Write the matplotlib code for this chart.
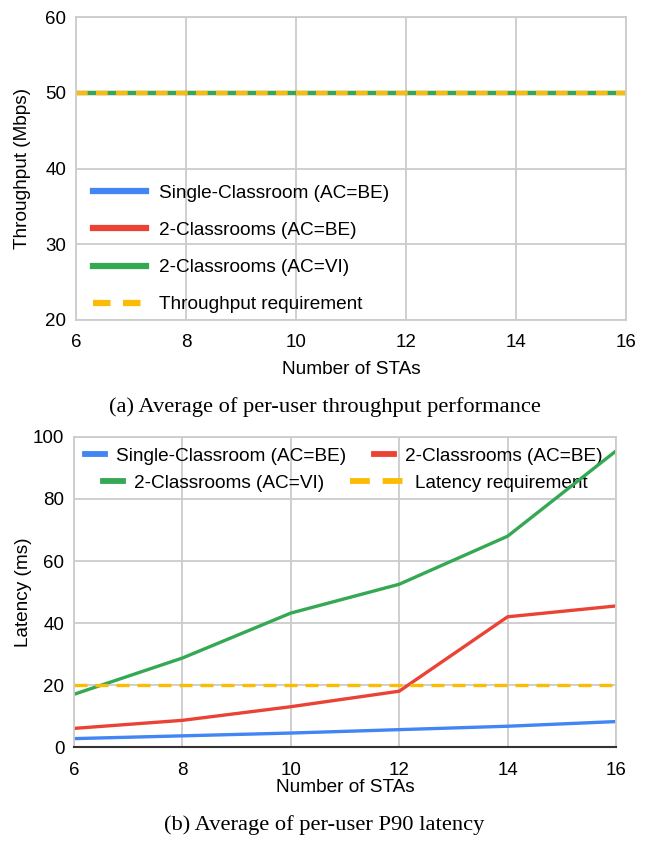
import matplotlib
matplotlib.use("Agg")
import matplotlib.pyplot as plt
from matplotlib.legend import Legend

# number of STAs
stas = [6, 8, 10, 12, 14, 16]

# (a) throughput, Mbps
thr_single_be = [50, 50, 50, 50, 50, 50]
thr_two_be = [50, 50, 50, 50, 50, 50]
thr_two_vi = [50, 50, 50, 50, 50, 50]
thr_req = [50, 50, 50, 50, 50, 50]

# (b) P90 latency, ms
lat_single_be = [2.7, 3.6, 4.5, 5.6, 6.7, 8.2]
lat_two_be = [6.0, 8.6, 13.0, 18.0, 42.0, 45.5]
lat_two_vi = [17.0, 28.7, 43.2, 52.5, 68.0, 95.5]
lat_req = [20, 20, 20, 20, 20, 20]

blue = '#4285F4'
red = '#EA4335'
green = '#34A853'
yellow = '#FBBC04'
grid_c = '#CCCCCC'

plt.rcParams['font.family'] = ['Liberation Sans', 'DejaVu Sans']
FS = 13.7
TICK_FS = 13.5
serif = ['Liberation Serif', 'DejaVu Serif']

fig = plt.figure(figsize=(6.49, 8.41), dpi=100)

def style_axes(ax, bottom_dark):
    ax.grid(True, color=grid_c, linewidth=1.3)
    ax.set_axisbelow(True)
    for s in ['top', 'right', 'left']:
        ax.spines[s].set_color(grid_c)
        ax.spines[s].set_linewidth(1.3)
    if bottom_dark:
        ax.spines['bottom'].set_color('#333333')
        ax.spines['bottom'].set_linewidth(1.5)
    else:
        ax.spines['bottom'].set_color(grid_c)
        ax.spines['bottom'].set_linewidth(1.3)
    ax.tick_params(length=0, labelsize=TICK_FS)
    ax.tick_params(axis='y', pad=7)
    ax.set_xlim(6, 16)
    ax.set_xticks(stas)

# ---- (a) throughput
ax1 = fig.add_axes([76 / 649, 1 - 320 / 841, 550 / 649, 303 / 841])
ax1.plot(stas, thr_single_be, color=blue, lw=3, label='Single-Classroom (AC=BE)')
ax1.plot(stas, thr_two_be, color=red, lw=3, label='2-Classrooms (AC=BE)')
ax1.plot(stas, thr_two_vi, color=green, lw=3, label='2-Classrooms (AC=VI)')
ax1.plot(stas, thr_req, color=yellow, lw=3, ls=(0, (2.8, 2.0)), label='Throughput requirement')
style_axes(ax1, False)
ax1.tick_params(axis='x', pad=10)
ax1.set_ylim(20, 60)
ax1.set_yticks([20, 30, 40, 50, 60])
ax1.set_xlabel('Number of STAs', fontsize=FS, labelpad=7)
ax1.set_ylabel('Throughput (Mbps)', fontsize=FS, labelpad=10)
leg1 = ax1.legend(loc='lower left', bbox_to_anchor=(0.0, -0.035), frameon=False, fontsize=FS,
                  handlelength=2.8, labelspacing=1.05, handletextpad=0.65)
for h in leg1.get_lines():
    h.set_linewidth(4.5)
fig.text(0.5, 1 - 407 / 841, '(a) Average of per-user throughput performance',
         ha='center', va='center', fontsize=16.2, family=serif)

# ---- (b) latency
ax2 = fig.add_axes([74 / 649, 1 - 747 / 841, 542 / 649, 310 / 841])
l1, = ax2.plot(stas, lat_single_be, color=blue, lw=2.4, label='Single-Classroom (AC=BE)')
l2, = ax2.plot(stas, lat_two_be, color=red, lw=2.4, label='2-Classrooms (AC=BE)')
l3, = ax2.plot(stas, lat_two_vi, color=green, lw=2.4, label='2-Classrooms (AC=VI)')
l4, = ax2.plot(stas, lat_req, color=yellow, lw=2.4, ls=(0, (3.9, 2.4)), label='Latency requirement')
style_axes(ax2, True)
ax2.tick_params(axis='x', pad=11)
ax2.set_ylim(0, 100)
ax2.set_yticks([0, 20, 40, 60, 80, 100])
ax2.set_xlabel('Number of STAs', fontsize=FS, labelpad=0)
ax2.set_ylabel('Latency (ms)', fontsize=FS, labelpad=1)

# legend entries placed one by one, two centred rows like the original
entries = [(l1, 85, 456, 1.05), (l2, 374, 456, 1.05), (l3, 103, 483, 1.05), (l4, 350, 483, 2.8)]
for line, px, py, hl in entries:
    lg = Legend(ax2, [line], [line.get_label()], loc='center left',
                bbox_to_anchor=((px - 74) / 542, (747 - py) / 310),
                frameon=False, fontsize=FS, borderpad=0, borderaxespad=0,
                handlelength=hl, handletextpad=0.6)
    for h in lg.get_lines():
        h.set_linewidth(4.2)
        if line is l4:
            h.set_dashes((3.4, 2.2))
    lg.set_zorder(1)  # data lines run over the legend, as in the original
    ax2.add_artist(lg)

fig.text(0.5, 1 - 825 / 841, '(b) Average of per-user P90 latency',
         ha='center', va='center', fontsize=16.2, family=serif)

fig.savefig('out.png', dpi=100)
